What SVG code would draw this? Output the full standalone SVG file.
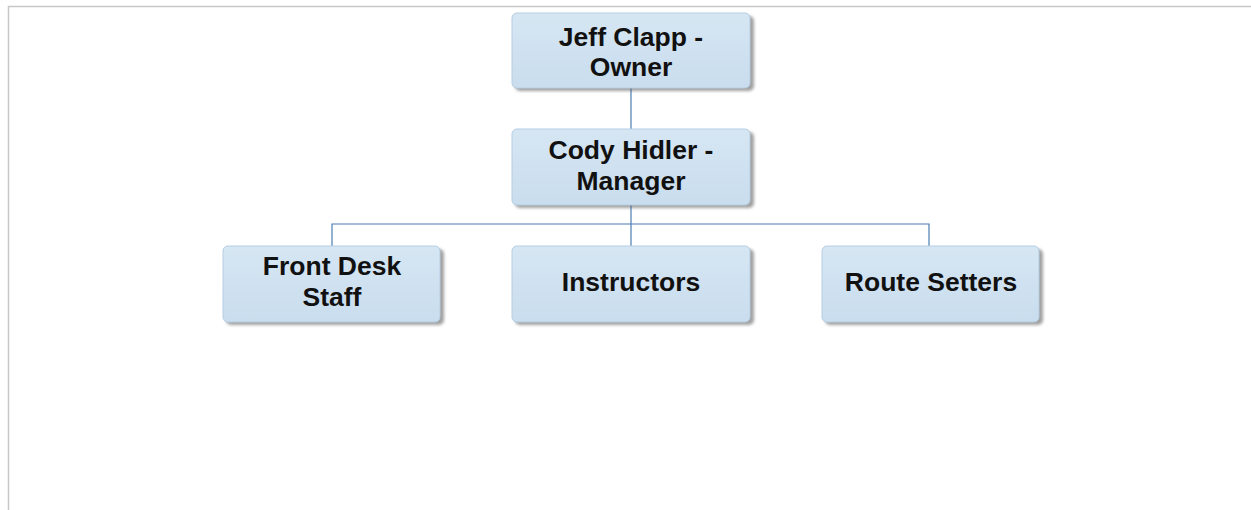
<svg xmlns="http://www.w3.org/2000/svg" width="1251" height="510" viewBox="0 0 1251 510">
<style>
.box{fill:url(#g);stroke:#b4cde2;stroke-width:1}
.sh{fill:#555;opacity:0.55;filter:url(#blur)}
.lbl{font-family:"Liberation Sans",Arial,sans-serif;font-weight:bold;font-size:26.5px;fill:#111;text-anchor:middle}
.con{stroke:#4a7fb5;stroke-width:1.2;fill:none}
</style>
<defs>
<linearGradient id="g" x1="0" y1="0" x2="0" y2="1">
<stop offset="0" stop-color="#d6e6f3"/>
<stop offset="1" stop-color="#c9ddee"/>
</linearGradient>
<filter id="blur" x="-10%" y="-10%" width="120%" height="130%"><feGaussianBlur stdDeviation="1.5"/></filter>
</defs>
<rect x="0" y="0" width="1251" height="510" fill="#fff"/>
<path d="M8.5 510 V6.5 H1251" fill="none" stroke="#c8c8c8" stroke-width="1.5"/>
<g id="connectors">
<path class="con" d="M631 88 V129"/>
<path class="con" d="M631 205 V246"/>
<path class="con" d="M332 246 V224 H929 V246"/>
</g>
<g id="jeff">
<rect class="sh" x="515" y="16" width="239" height="75" rx="5"/>
<rect class="box" x="512" y="13" width="238" height="75" rx="5"/>
<text class="lbl" x="631" y="46">Jeff Clapp -</text>
<text class="lbl" x="631" y="76">Owner</text>
</g>
<g id="cody">
<rect class="sh" x="515" y="132" width="239" height="76" rx="5"/>
<rect class="box" x="512" y="129" width="238" height="76" rx="5"/>
<text class="lbl" x="631" y="159">Cody Hidler -</text>
<text class="lbl" x="631" y="190">Manager</text>
</g>
<g id="frontdesk">
<rect class="sh" x="226" y="249" width="218" height="76" rx="5"/>
<rect class="box" x="223" y="246" width="217" height="76" rx="5"/>
<text class="lbl" x="332" y="275">Front Desk</text>
<text class="lbl" x="332" y="306">Staff</text>
</g>
<g id="instructors">
<rect class="sh" x="515" y="249" width="239" height="76" rx="5"/>
<rect class="box" x="512" y="246" width="238" height="76" rx="5"/>
<text class="lbl" x="631" y="291">Instructors</text>
</g>
<g id="routesetters">
<rect class="sh" x="825" y="249" width="218" height="76" rx="5"/>
<rect class="box" x="822" y="246" width="217" height="76" rx="5"/>
<text class="lbl" x="931" y="291">Route Setters</text>
</g>
</svg>
